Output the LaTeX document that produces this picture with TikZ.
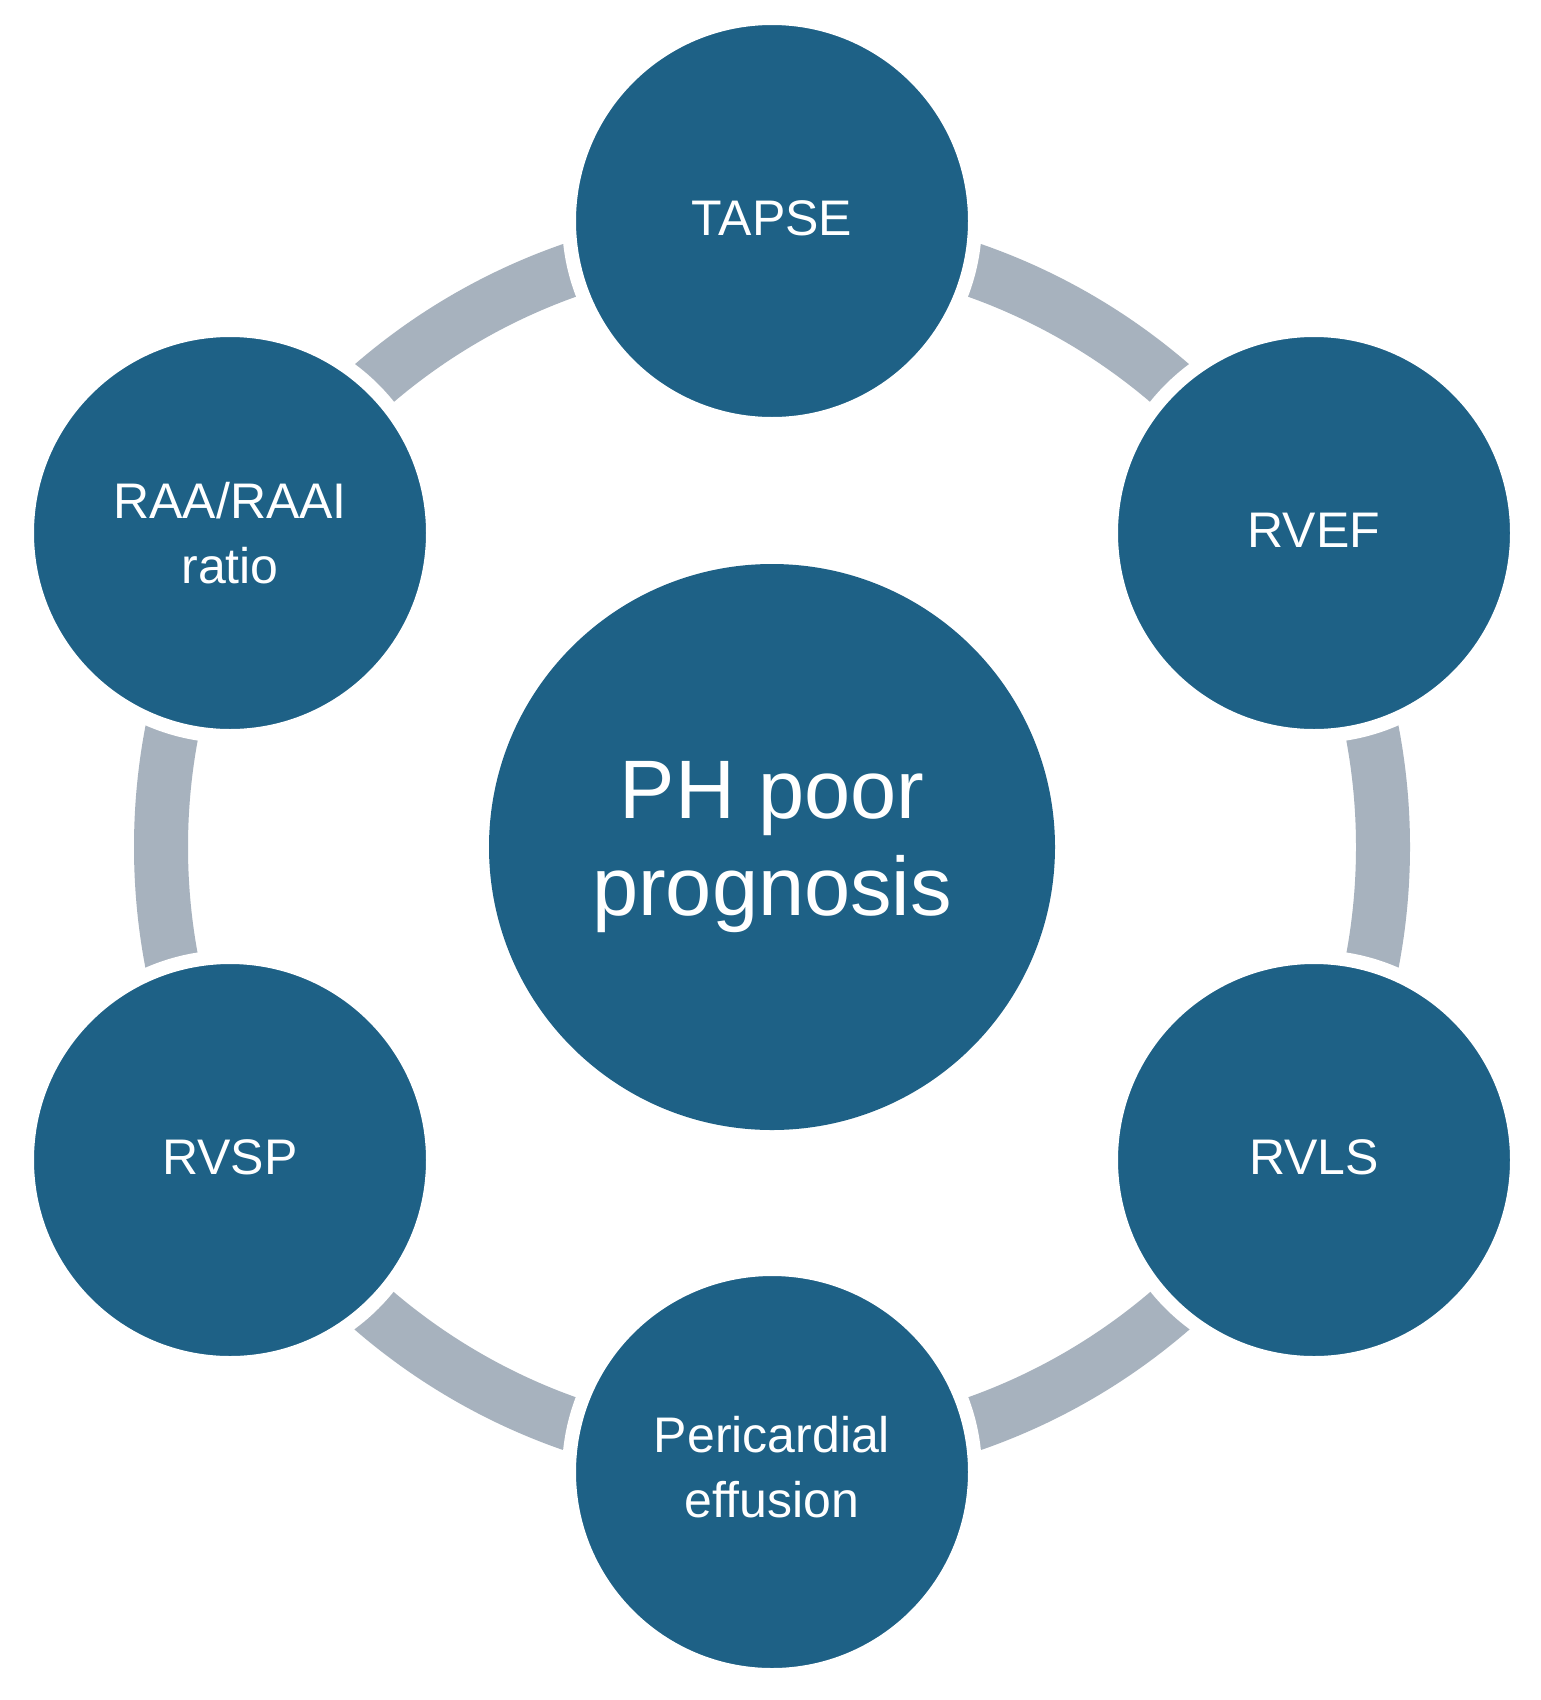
\documentclass[tikz,border=0pt]{standalone}
\usepackage{fontspec}
\setmainfont{Liberation Sans}
\definecolor{nodeblue}{RGB}{30,97,134}
\definecolor{ringgray}{RGB}{167,178,190}
\begin{document}
\begin{tikzpicture}[x=1pt,y=-1pt,
  satellite/.style={circle, fill=nodeblue, draw=white, line width=14pt,
    minimum size=406pt, inner sep=0pt, text=white, align=center,
    font=\fontsize{50}{65}\selectfont},
  hub/.style={circle, fill=nodeblue, minimum size=566pt, inner sep=0pt,
    text=white, align=center, font=\fontsize{83}{97}\selectfont},
  ring/.style={draw=ringgray, line width=54pt}]
\useasboundingbox (0,0) rectangle (1541,1700);
\fill[white] (0,0) rectangle (1541,1700);
\node[hub] (c) at (772,847) {PH poor\\prognosis};
\draw[ring] (c.center) circle[radius=611pt];
\node[satellite] (tapse) at (772,221) {\raisebox{6pt}{TAPSE}};
\node[satellite] (rvef) at (1314,533) {\raisebox{6pt}{RVEF}};
\node[satellite] (rvls) at (1314,1160) {\raisebox{6pt}{RVLS}};
\node[satellite] (peri) at (772,1472) {\raisebox{4pt}{\begin{tabular}{@{}c@{}}Pericardial\\effusion\end{tabular}}};
\node[satellite] (rvsp) at (230,1160) {\raisebox{6pt}{RVSP}};
\node[satellite] (raa) at (230,533) {RAA/RAAI\\ratio};
\end{tikzpicture}
\end{document}
